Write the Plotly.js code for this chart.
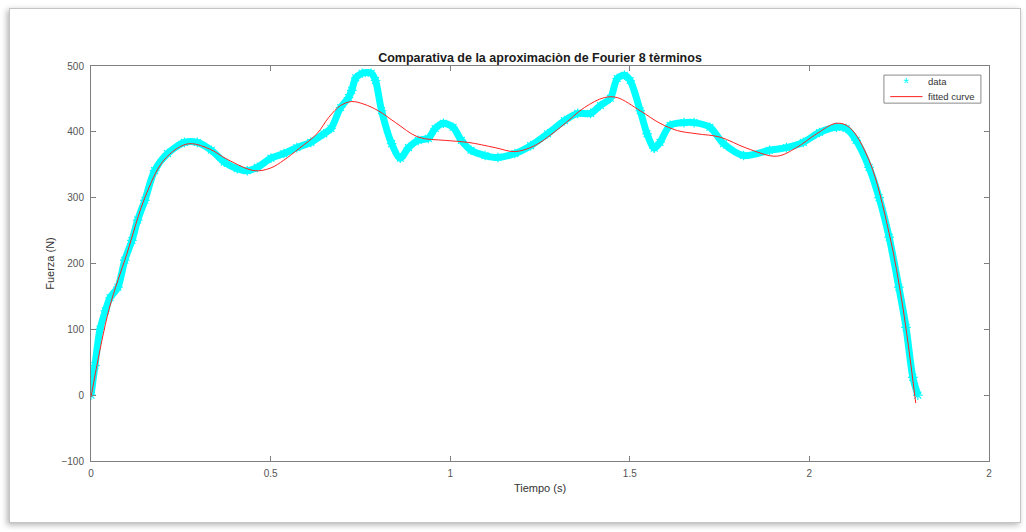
<!DOCTYPE html>
<html>
<head>
<meta charset="utf-8">
<script src="https://cdn.plot.ly/plotly-3.0.1.min.js"></script>
<style>
  html, body { margin: 0; padding: 0; background: #ffffff; width: 1026px; height: 532px; overflow: hidden; }
  #frame { position: absolute; left: 9px; top: 8px; width: 1010px; height: 513px; border: 1px solid #c4c4c4;
           box-shadow: -2px 2px 6px rgba(0,0,0,0.30); background: #ffffff; }
  #chart { position: absolute; left: 0; top: 0; width: 1026px; height: 532px; }
</style>
</head>
<body>
<div id="frame"></div>
<div id="chart"></div>
<script>
// Measured data (Tiempo s, Fuerza N)
const tData = [0, 0.011, 0.025, 0.04, 0.053, 0.075, 0.094, 0.114, 0.13, 0.15,
  0.177, 0.213, 0.26, 0.296, 0.335, 0.371, 0.407, 0.435, 0.463, 0.501,
  0.537, 0.573, 0.612, 0.648, 0.668, 0.695, 0.717, 0.726, 0.737, 0.755,
  0.78, 0.792, 0.809, 0.837, 0.861, 0.884, 0.911, 0.939, 0.958, 0.981,
  1.008, 1.031, 1.058, 1.097, 1.133, 1.18, 1.224, 1.271, 1.318, 1.355,
  1.391, 1.418, 1.446, 1.465, 1.485, 1.501, 1.529, 1.548, 1.568, 1.584,
  1.612, 1.651, 1.679, 1.723, 1.761, 1.817, 1.889, 1.936, 1.983, 2.028,
  2.075, 2.102, 2.13, 2.166, 2.194, 2.222, 2.249, 2.269, 2.288, 2.302];
const fData = [0, 45, 100, 128, 148, 164, 205, 235, 266, 296,
  341, 367, 384, 384, 372, 354, 344, 341, 346, 360,
  367, 376, 384, 397, 405, 437, 452, 463, 482, 489,
  489, 478, 432, 382, 360, 376, 387, 390, 405, 413,
  407, 387, 372, 364, 361, 367, 379, 397, 417, 428,
  428, 440, 451, 481, 486, 478, 432, 397, 375, 384,
  410, 414, 414, 407, 382, 364, 372, 376, 384, 399,
  407, 405, 387, 346, 300, 240, 164, 103, 27, 0];

// Fitted curve (Fourier, 8 terms)
const tFit = [0, 0.05, 0.1, 0.15, 0.2, 0.25, 0.28, 0.33, 0.38, 0.455,
  0.5, 0.537, 0.58, 0.629, 0.662, 0.695, 0.726, 0.76, 0.8, 0.848,
  0.911, 0.986, 1.05, 1.125, 1.18, 1.235, 1.307, 1.374, 1.429, 1.465,
  1.529, 1.584, 1.632, 1.687, 1.751, 1.826, 1.909, 1.964, 2.02, 2.075,
  2.111, 2.166, 2.222, 2.26, 2.296];
const fFit = [-3, 130, 215, 300, 355, 378, 382, 374, 358, 341,
  345, 357, 375, 397, 422, 440, 446, 442, 432, 414,
  392, 387, 384, 376, 370, 379, 407, 437, 452, 452,
  432, 413, 402, 397, 392, 375, 363, 376, 397, 413,
  407, 357, 246, 134, -12];

const xTickVals = [0, 0.5, 1, 1.5, 2, 2.5];
const xTickText = ['0', '0.5', '1', '1.5', '2', '2'];
const yTickVals = [-100, 0, 100, 200, 300, 400, 500];
const legendNames = ['data', 'fitted curve'];

const FONT = 'Liberation Sans, Arial, Helvetica, sans-serif';
const CYAN = '#00ffff';
const RED = '#ff2020';

const traces = [
  { x: tData, y: fData, type: 'scatter', mode: 'lines', showlegend: false, hoverinfo: 'skip',
    line: { color: CYAN, width: 7, shape: 'spline', smoothing: 0.8 } },
  { x: tData, y: fData, type: 'scatter', mode: 'markers', name: legendNames[0], showlegend: false,
    marker: { symbol: 'asterisk-open', size: 8, color: CYAN, line: { color: CYAN, width: 1.2 } } },
  { x: tFit, y: fFit, type: 'scatter', mode: 'lines', name: legendNames[1], showlegend: false,
    line: { color: RED, width: 1, shape: 'spline' } }
];

const axisCommon = {
  showgrid: false, zeroline: false, showline: true, mirror: 'ticks',
  linecolor: '#7f7f7f', linewidth: 1, ticks: 'inside', ticklen: 5, tickcolor: '#7f7f7f',
  tickfont: { family: FONT, size: 10, color: '#555555' }
};

// Legend drawn as a compact MATLAB-style box (paper coordinates)
const legX0 = 0.883, legX1 = 0.991, legY0 = 0.906, legY1 = 0.977;
const shapes = [
  { type: 'rect', xref: 'paper', yref: 'paper', x0: legX0, x1: legX1, y0: legY0, y1: legY1,
    line: { color: '#8a8a8a', width: 1 }, fillcolor: '#ffffff', layer: 'above' },
  { type: 'line', xref: 'paper', yref: 'paper', x0: 0.890, x1: 0.926, y0: 0.9225, y1: 0.9225,
    line: { color: RED, width: 1 }, layer: 'above' }
];
const annotations = [
  { xref: 'paper', yref: 'paper', x: 0.908, y: 0.958, text: '*', showarrow: false,
    xanchor: 'center', yanchor: 'middle', font: { family: FONT, size: 15, color: CYAN } },
  { xref: 'paper', yref: 'paper', x: 0.930, y: 0.960, text: legendNames[0], showarrow: false,
    xanchor: 'left', yanchor: 'middle', font: { family: FONT, size: 9.5, color: '#333333' } },
  { xref: 'paper', yref: 'paper', x: 0.930, y: 0.922, text: legendNames[1], showarrow: false,
    xanchor: 'left', yanchor: 'middle', font: { family: FONT, size: 9.5, color: '#333333' } }
];

const layout = {
  width: 1026, height: 532,
  paper_bgcolor: 'rgba(0,0,0,0)', plot_bgcolor: '#ffffff',
  margin: { l: 91, r: 37, t: 66, b: 71 },
  title: { text: '<b>Comparativa de la aproximaciòn de Fourier 8 tèrminos</b>',
           font: { family: FONT, size: 12.5, color: '#1a1a1a' },
           x: 0.5, xref: 'paper', xanchor: 'center', y: 1, yref: 'paper', yanchor: 'bottom', pad: { b: 4 } },
  xaxis: Object.assign({}, axisCommon, {
    range: [0, 2.5], tickvals: xTickVals, ticktext: xTickText, ticklabelstandoff: 3,
    title: { text: 'Tiempo (s)', font: { family: FONT, size: 11, color: '#333333' }, standoff: 6 }
  }),
  yaxis: Object.assign({}, axisCommon, {
    range: [-100, 500], tickvals: yTickVals, ticklabelstandoff: 4,
    title: { text: 'Fuerza (N)', font: { family: FONT, size: 11, color: '#333333' }, standoff: 4 }
  }),
  shapes: shapes,
  annotations: annotations,
  showlegend: false
};

Plotly.newPlot('chart', traces, layout, { displayModeBar: false, staticPlot: true });
</script>
</body>
</html>
